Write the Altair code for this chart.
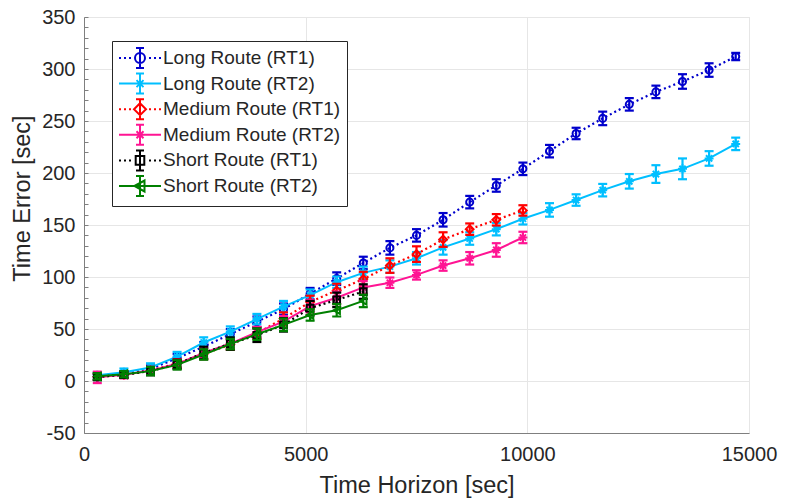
import altair as alt
import pandas as pd

# Prediction horizons (sec) at which the time error was evaluated
horizon = [300, 900, 1500, 2100, 2700, 3300, 3900, 4500, 5100, 5700, 6300, 6900,
           7500, 8100, 8700, 9300, 9900, 10500, 11100, 11700, 12300, 12900,
           13500, 14100, 14700]

series_names = ["Long Route (RT1)", "Long Route (RT2)", "Medium Route (RT1)",
                "Medium Route (RT2)", "Short Route (RT1)", "Short Route (RT2)"]
series_colors = ["#0000CC", "#00BFFF", "#FF0000", "#FF1493", "#000000", "#008000"]

# Mean time error [sec] and half-width of the error bar for each route / method
long_rt1 = [4, 6.5, 11.5, 22, 33, 45, 57, 69, 84, 98.5, 113.5, 128, 140, 155, 172,
            188, 204, 221, 238, 252.5, 266, 278, 288, 299, 312]
long_rt1_err = [3, 3, 3.5, 4, 4.5, 5, 5, 5.5, 5.5, 6, 6, 6.5, 6, 6.5, 6, 6, 6, 6,
                5.5, 6.5, 6, 6, 7, 6.5, 3.5]

long_rt2 = [5.5, 8.5, 13, 23.5, 37, 47.5, 59.5, 71.5, 82.5, 95, 104, 110, 118,
            128.5, 137, 146, 156, 164.5, 174, 183.5, 192, 199, 204, 214, 228]
long_rt2_err = [3, 3.5, 4, 4.5, 5, 5, 5, 5.5, 5.5, 5.5, 6, 6, 6, 7, 6, 6, 5.5, 6.5,
                5.5, 6, 7, 8.5, 10, 7, 6]

medium_rt1 = [4, 6, 10, 17, 26, 35, 46, 60, 76, 87, 98, 111, 122, 136, 146, 155, 164]
medium_rt1_err = [3, 3, 3.5, 4, 5, 5, 5.5, 6, 6, 6.5, 7, 7, 7.5, 7, 5.5, 5.5, 5]

medium_rt2 = [3.5, 6, 10, 16.5, 27, 36, 47, 57, 72, 80, 90, 94.5, 102, 111, 118, 126, 138]
medium_rt2_err = [5.5, 3.5, 3.5, 4, 5, 5, 5, 5.5, 6, 6, 6, 5, 4.5, 5, 6, 6.5, 5.5]

short_rt1 = [4, 6, 9.5, 16, 27, 36, 44, 54, 70, 78, 86]
short_rt1_err = [3, 3, 4, 4.5, 6, 6, 6.5, 6.5, 7, 7, 7]

short_rt2 = [4.5, 6.5, 9.5, 15.5, 25.5, 35.5, 45, 54, 63.5, 68, 77]
short_rt2_err = [3, 3, 4, 4.5, 5, 5, 5.5, 6, 5.5, 6, 6]

values = [long_rt1, long_rt2, medium_rt1, medium_rt2, short_rt1, short_rt2]
errors = [long_rt1_err, long_rt2_err, medium_rt1_err, medium_rt2_err,
          short_rt1_err, short_rt2_err]

rows = []
for name, vals, errs in zip(series_names, values, errors):
    for t, v, e in zip(horizon, vals, errs):
        rows.append({"series": name, "t": t, "err": v, "lo": v - e, "hi": v + e})
df = pd.DataFrame(rows)

FONT = "Liberation Sans"
TEXT = "#262626"
W, H = 665, 416

ASTERISK = "M-1,0L1,0M0,-1L0,1M-0.7,-0.7L0.7,0.7M-0.7,0.7L0.7,-0.7"
marker_shapes = ["circle", ASTERISK, "diamond", ASTERISK, "square", "triangle-left"]
marker_sizes = [50, 80, 60, 80, 45, 55]
dotted = [True, False, True, False, True, False]


# ---- legend glyphs: line segment + error bar + marker, in symbol units ----
# (one unit = 10 px with a legend symbol size of 400)
CX = 1.1
X0, X1 = -1.0, 3.2


def f(v):
    return f"{v:.3f}".rstrip("0").rstrip(".")


def marker_path(kind):
    r = 0.5
    if kind == "circle":
        return (f"M{f(CX + r)},0A{f(r)},{f(r)} 0 1,1 {f(CX - r)},0"
                f"A{f(r)},{f(r)} 0 1,1 {f(CX + r)},0Z")
    if kind == "asterisk":
        d = 0.7 * r
        return (f"M{f(CX - r)},0L{f(CX + r)},0M{f(CX)},{f(-r)}L{f(CX)},{f(r)}"
                f"M{f(CX - d)},{f(-d)}L{f(CX + d)},{f(d)}"
                f"M{f(CX - d)},{f(d)}L{f(CX + d)},{f(-d)}")
    if kind == "diamond":
        q = 0.6
        return f"M{f(CX)},{f(-q)}L{f(CX + q)},0L{f(CX)},{f(q)}L{f(CX - q)},0Z"
    if kind == "square":
        q = 0.43
        return f"M{f(CX - q)},{f(-q)}H{f(CX + q)}V{f(q)}H{f(CX - q)}Z"
    # triangle pointing left
    return f"M{f(CX - 0.55)},0L{f(CX + 0.45)},-0.55L{f(CX + 0.45)},0.55Z"


def legend_glyph(kind, is_dotted):
    parts = []
    if is_dotted:
        a = X0
        while a < X1:
            if abs(a + 0.1 - CX) > 0.55:
                parts.append(f"M{f(a)},0H{f(a + 0.2)}")
            a += 0.5
    else:
        parts.append(f"M{f(X0)},0H{f(X1)}")
    e, c = 1.0, 0.4
    parts.append(f"M{f(CX)},{f(-e)}V{f(e)}")
    parts.append(f"M{f(CX - c)},{f(-e)}H{f(CX + c)}M{f(CX - c)},{f(e)}H{f(CX + c)}")
    parts.append(marker_path(kind))
    return "".join(parts)


legend_kinds = ["circle", "asterisk", "diamond", "asterisk", "square", "triangle"]
legend_paths = [legend_glyph(k, d) for k, d in zip(legend_kinds, dotted)]

# ---- scales and axes ----
x_scale = alt.Scale(domain=[0, 15000], nice=False, zero=False)
y_scale = alt.Scale(domain=[-50, 350], nice=False, zero=False)

x_axis = alt.Axis(
    title="Time Horizon [sec]", values=[0, 5000, 10000, 15000],
    labelExpr="datum.value + ''", ticks=False, grid=True, labelFlush=False,
    labelFontSize=20, titleFontSize=23.5, labelPadding=11, titlePadding=9,
)
y_axis = alt.Axis(
    title="Time Error [sec]", values=list(range(-50, 351, 50)),
    labelExpr="datum.value + ''", ticks=False, grid=True, labelFlush=False,
    labelFontSize=20, titleFontSize=23.5, labelPadding=9,
    titleX=-62, titleY=181, titleBaseline="middle", titleAlign="center",
)

x_enc = alt.X("t:Q", scale=x_scale, axis=x_axis)

layers = []
for name, color, shape, size, is_dotted in zip(series_names, series_colors,
                                               marker_shapes, marker_sizes, dotted):
    base = alt.Chart(df).transform_filter(alt.datum.series == name)
    bar = base.mark_rule(color=color, strokeWidth=2.2).encode(
        x=x_enc, y=alt.Y("lo:Q", scale=y_scale, axis=y_axis), y2="hi:Q")
    cap_lo = base.mark_tick(color=color, orient="horizontal", size=9,
                            thickness=2.2, opacity=1).encode(
        x=x_enc, y=alt.Y("lo:Q", scale=y_scale, axis=y_axis))
    cap_hi = base.mark_tick(color=color, orient="horizontal", size=9,
                            thickness=2.2, opacity=1).encode(
        x=x_enc, y=alt.Y("hi:Q", scale=y_scale, axis=y_axis))
    if is_dotted:
        line = base.mark_line(color=color, strokeWidth=2.2, strokeDash=[2, 3])
    else:
        line = base.mark_line(color=color, strokeWidth=2)
    line = line.encode(x=x_enc, y=alt.Y("err:Q", scale=y_scale, axis=y_axis))
    pts = base.mark_point(shape=shape, size=size, filled=False, color=color,
                          strokeWidth=2, opacity=1).encode(
        x=x_enc, y=alt.Y("err:Q", scale=y_scale, axis=y_axis))
    layers += [bar, cap_lo, cap_hi, line, pts]

legend = alt.Legend(
    title=None, orient="none", legendX=28, legendY=24,
    fillColor="white", strokeColor="#262626", padding=6,
    symbolSize=400, symbolStrokeWidth=2, labelFont=FONT, labelFontSize=19,
    labelColor=TEXT, labelOffset=23, labelLimit=400, rowPadding=-2.4, symbolLimit=0,
)
legend_layer = alt.Chart(df).transform_filter("false").mark_point(
    filled=False, opacity=1, size=400, strokeWidth=2
).encode(
    x=x_enc,
    y=alt.Y("err:Q", scale=y_scale, axis=y_axis),
    color=alt.Color("series:N", scale=alt.Scale(domain=series_names, range=series_colors),
                    legend=legend),
    shape=alt.Shape("series:N", scale=alt.Scale(domain=series_names, range=legend_paths),
                    legend=legend),
)

data_layers = alt.layer(*layers, legend_layer)

# minor ticks on the left edge, pointing into the plot
minor_ticks = alt.Chart(df).transform_filter("false").mark_rule().encode(
    y=alt.Y("err:Q", scale=y_scale,
            axis=alt.Axis(orient="right", offset=-W, labels=False, domain=False,
                          grid=False, ticks=True, tickSize=4, tickWidth=1,
                          tickColor="#7f7f7f", title=None,
                          values=list(range(-50, 351, 10))))
)

chart = alt.layer(data_layers, minor_ticks).resolve_axis(y="independent").properties(
    width=W, height=H,
    padding={"left": 84, "top": 17, "right": 39, "bottom": 66},
    autosize=alt.AutoSizeParams(type="none"),
    background="white",
).configure_view(
    stroke="#dcdcdc", strokeWidth=1,
).configure_axis(
    labelFont=FONT, titleFont=FONT, labelColor=TEXT, titleColor=TEXT,
    titleFontWeight="normal", gridColor="#e6e6e6", gridWidth=1,
    domainColor="#7f7f7f", domainWidth=1,
)

chart.save("out.html", embed_options={"renderer": "svg", "actions": False})
